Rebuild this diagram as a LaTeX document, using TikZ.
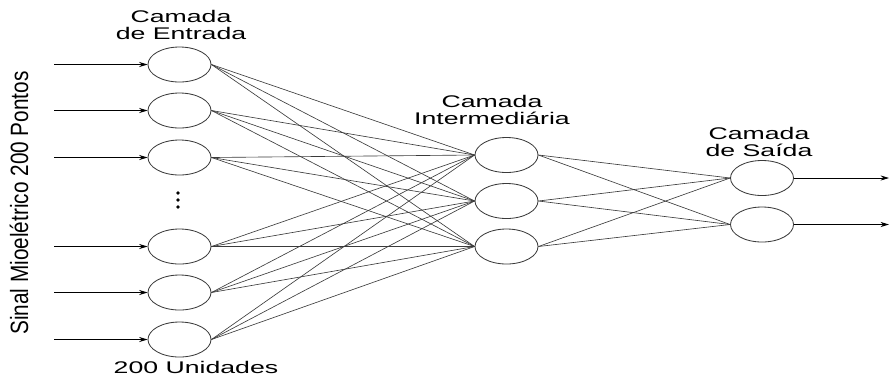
\documentclass[tikz,border=0pt]{standalone}
\usepackage{fontspec}
\setmainfont{Liberation Sans}
\usetikzlibrary{arrows.meta,shapes.geometric}
\definecolor{NetLine}{HTML}{3A3A3A}
\newcommand{\widetxt}[1]{\scalebox{1.58}[1]{#1}}
\tikzset{
  neuron/.style={draw=NetLine,ellipse,inner sep=0pt,
    minimum width=1.575cm,minimum height=0.875cm,line width=0.6pt},
  synapse/.style={NetLine,line width=0.45pt},
  signal/.style={black,line width=0.6pt,-{Stealth[length=6pt,width=3.6pt]}},
  layertext/.style={align=center,inner sep=0pt,font=\fontsize{12}{12.6}\selectfont}
}

\begin{document}
\begin{tikzpicture}[x=0.025cm,y=-0.025cm]

  \useasboundingbox (0,0) rectangle (891,378);

  % input layer
  \foreach \i/\y in {1/64.5,2/110.5,3/157.5,4/246.5,5/292.5,6/339.5}{
    \node[neuron] (in\i) at (179.5,\y) {};
    \coordinate (src\i) at (54,\y);
    \draw[signal] (src\i) -- (in\i.west);
  }
  \foreach \y in {193,200,207}
    \fill (178,\y) circle[radius=0.045cm];

  % hidden layer
  \foreach \j/\y in {1/155,2/201,3/246.5}
    \node[neuron] (hid\j) at (506.5,\y) {};

  % output layer
  \foreach \k/\y in {1/178,2/224.5}{
    \node[neuron] (out\k) at (762,\y) {};
    \coordinate (dst\k) at (889,\y);
    \draw[signal] (out\k.east) -- (dst\k);
  }

  % connections
  \foreach \i in {1,...,6}
    \foreach \j in {1,2,3}
      \draw[synapse] (in\i.east) -- (hid\j.west);
  \foreach \j in {1,2,3}
    \foreach \k in {1,2}
      \draw[synapse] (hid\j.east) -- (out\k.west);

  % labels
  \node[layertext] (entrada) at (181,25) {\widetxt{Camada}\\\widetxt{de Entrada}};
  \node[layertext] (inter) at (492,110) {\widetxt{Camada}\\\widetxt{Intermediária}};
  \node[layertext] (saida) at (759,142) {\widetxt{Camada}\\\widetxt{de Saída}};
  \node[layertext] (unid) at (196,367) {\widetxt{200 Unidades}};
  \node[rotate=90,font=\fontsize{17.8}{19}\selectfont] (sinal) at (19,203)
    {\scalebox{0.83}[1]{Sinal Mioelétrico 200 Pontos}};

\end{tikzpicture}
\end{document}
